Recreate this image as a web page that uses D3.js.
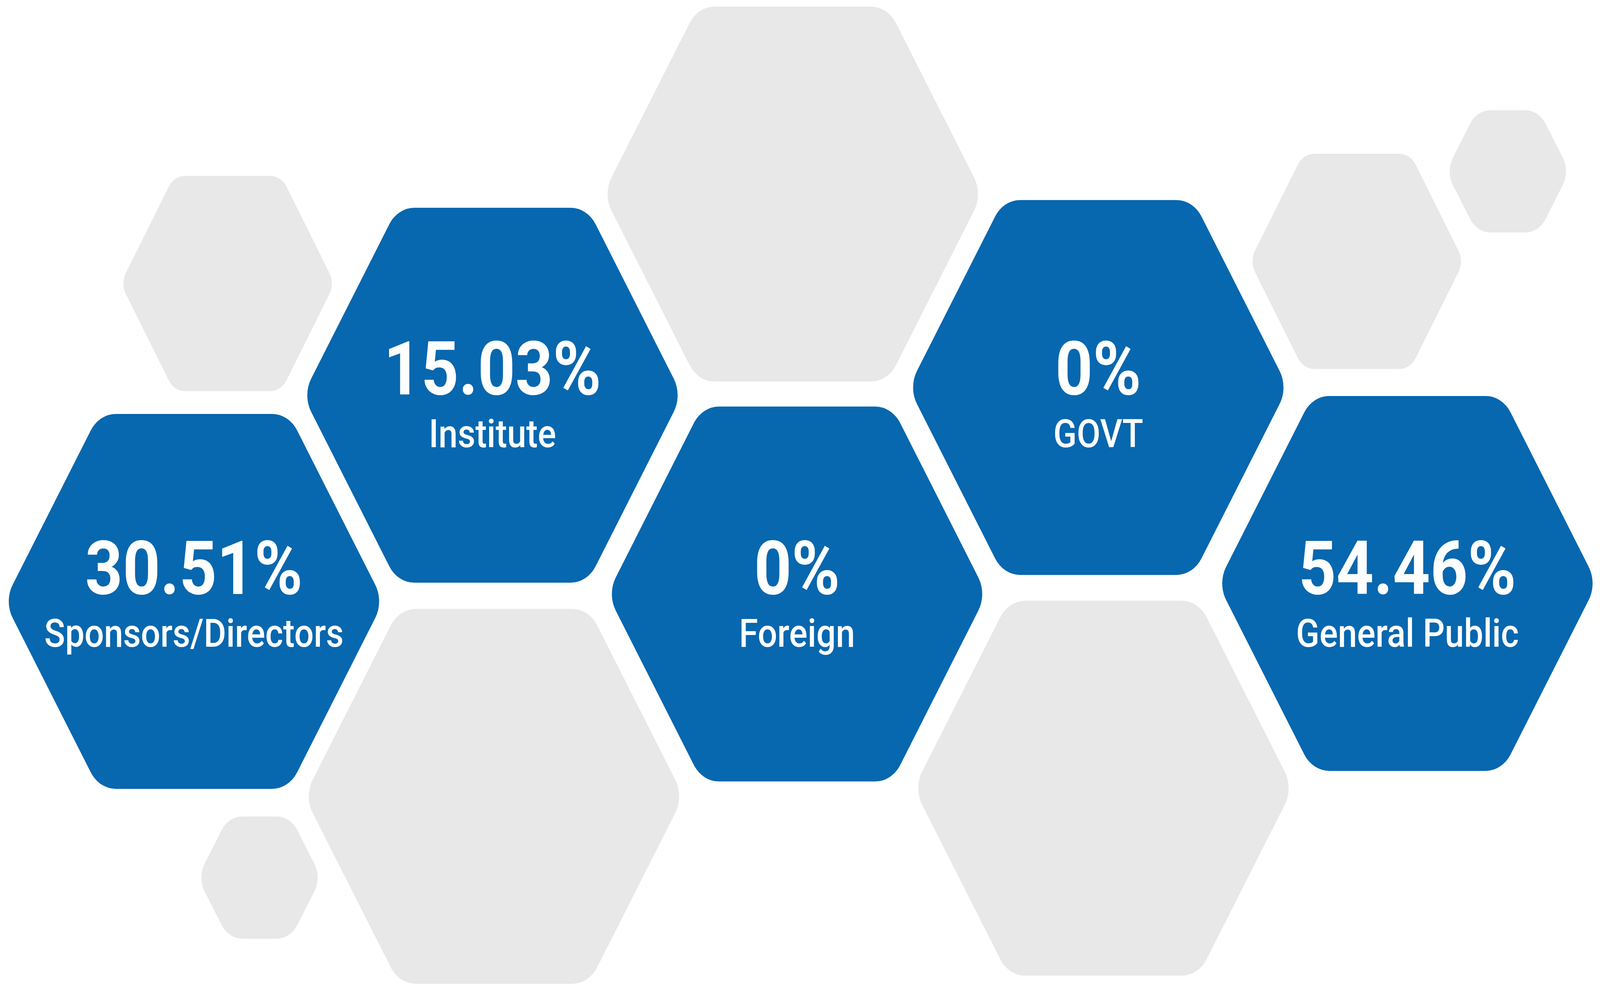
<!DOCTYPE html>
<html>
<head>
<meta charset="utf-8">
<script src="https://d3js.org/d3.v7.min.js"></script>
<style>
  html, body { margin: 0; padding: 0; background: #fff; overflow: hidden; }
  svg { display: block; }
  text { font-family: Roboto, "Noto Sans", sans-serif; fill: #fff; }
</style>
</head>
<body>
<svg id="chart"></svg>
<script>
// shareholding pattern (%)
const categories = ["Sponsors/Directors", "Institute", "Foreign", "GOVT", "General Public"];
const shares = [30.51, 15.03, 0, 0, 54.46];

// where each blue hex sits on the honeycomb grid (col, row)
const blueCols = [0, 0.984, 1.988, 2.981, 4];
const blueRows = [2.041, 1.008, 2.004, 0.969, 1.951];
const textRows = [2, 1, 2, 1, 2];

// grey filler hexes
const greyCols = [0.111, 1.974, 0.989, 0.216, 2.998, 3.833, 4.331];
const greyRows = [0.448, 0, 3.018, 3.425, 2.977, 0.337, -0.114];
const greySizes = ["M", "L", "L", "S", "L", "M", "S"];

const W = 4694, H = 2535;

// width, height, corner radius for each hex size
const hexSize = {
  L: { w: 1113, h: 960, r: 85 },
  M: { w: 628, h: 551, r: 55 },
  S: { w: 363, h: 313, r: 70 }
};

// draw in 4694x2535 units, stretch to whatever the window is
const svg = d3.select("#chart")
  .attr("width", window.innerWidth)
  .attr("height", window.innerHeight)
  .attr("viewBox", "0 0 " + W + " " + H)
  .attr("preserveAspectRatio", "none");
svg.append("rect").attr("width", W).attr("height", H).attr("fill", "#fff");

// grid -> pixels
const x = d3.scaleLinear().domain([0, 4]).range([569, 4129]);
const y = d3.scaleLinear().domain([0, 3]).range([497, 2030]);

// flat topped hexagon with rounded corners
function hexPath(cx, cy, s) {
  const hw = s.w / 2, hh = s.h / 2;
  const pts = [
    [cx - hw, cy], [cx - hw / 2, cy - hh], [cx + hw / 2, cy - hh],
    [cx + hw, cy], [cx + hw / 2, cy + hh], [cx - hw / 2, cy + hh]
  ];
  const p = d3.path();
  p.moveTo((pts[0][0] + pts[1][0]) / 2, (pts[0][1] + pts[1][1]) / 2);
  for (let i = 1; i <= 6; i++) {
    const a = pts[i % 6], b = pts[(i + 1) % 6];
    p.arcTo(a[0], a[1], b[0], b[1], s.r);
  }
  p.closePath();
  return p.toString();
}

// grey ones go first
svg.append("g").selectAll("path")
  .data(greyCols.map((c, i) => ({ col: c, row: greyRows[i], size: greySizes[i] })))
  .join("path")
  .attr("d", d => hexPath(x(d.col), y(d.row), hexSize[d.size]))
  .attr("fill", "#e8e8e8");

const cells = categories.map((name, i) => ({
  name: name, value: shares[i], col: blueCols[i], row: blueRows[i], trow: textRows[i]
}));

const g = svg.append("g").selectAll("g")
  .data(cells)
  .join("g");

g.append("path")
  .attr("d", d => hexPath(x(d.col), y(d.row), hexSize.L))
  .attr("fill", "#0767af");

// big percentage
g.append("text")
  .attr("x", d => x(d.col))
  .attr("y", d => y(d.trow) + 2)
  .attr("text-anchor", "middle")
  .attr("font-size", 192)
  .attr("font-weight", 700)
  .text(d => d.value + "%");

// category name under it
g.append("text")
  .attr("x", d => x(d.col))
  .attr("y", d => y(d.trow) + 137)
  .attr("text-anchor", "middle")
  .attr("font-size", 101)
  .attr("font-weight", 500)
  .text(d => d.name);
</script>
</body>
</html>
